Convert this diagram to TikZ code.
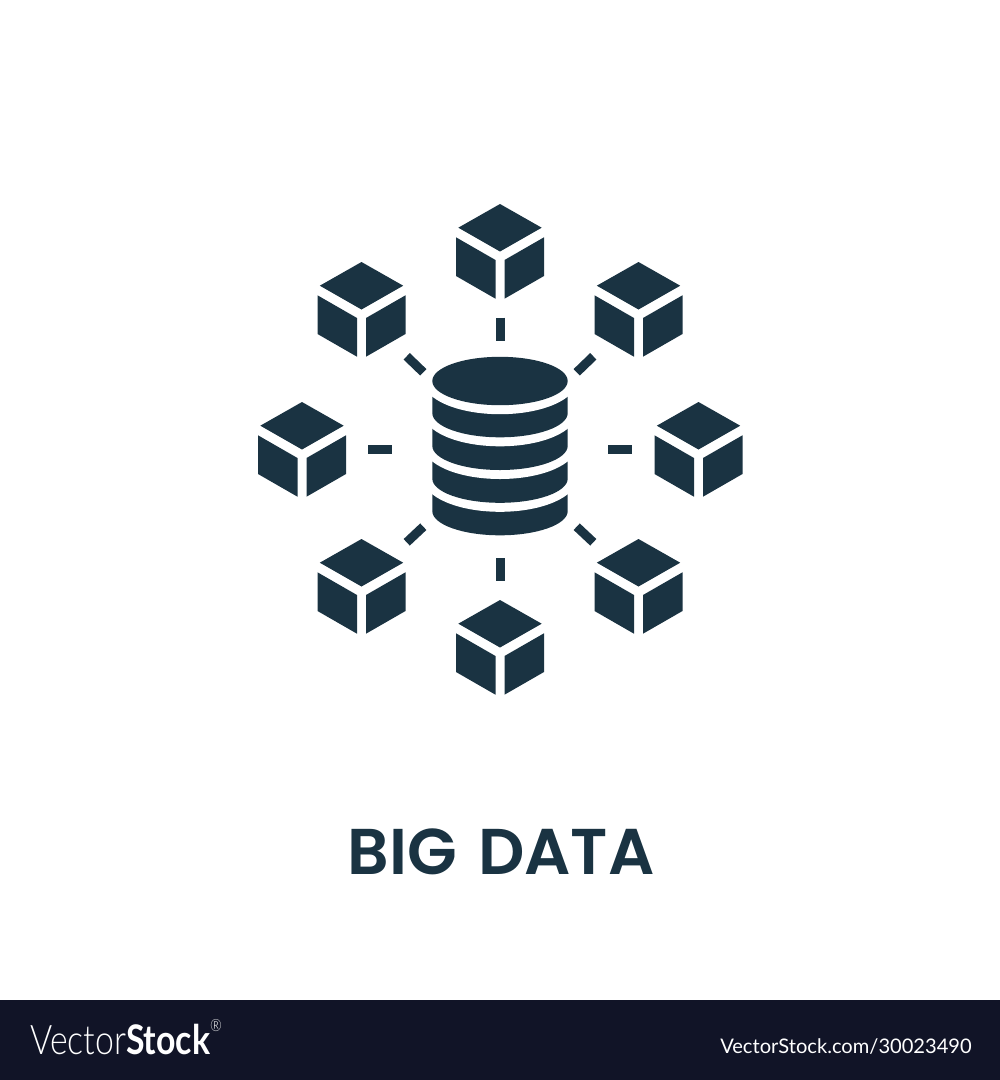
\documentclass[tikz,border=0pt]{standalone}
\usepackage{fontspec}
\newfontfamily\titlefont{Poppins SemiBold}
\newfontfamily\logofont[FakeStretch=0.83]{Lato Light}[BoldFont=Lato Bold]
\newfontfamily\linkfont{Lato}
\definecolor{icondark}{HTML}{1A3342}
\definecolor{footerdark}{HTML}{111427}
\tikzset{
	% one cube, measured from its top corner
	cubeicon/.pic={
		\fill[icondark] (0, 0) -- (41.7, 23.7) -- (0, 47.5) -- (-41.7, 23.7) -- cycle;
		\fill[icondark] (-44, 33.3) -- (-4.5, 56) -- (-4.5, 94.7) -- (-44, 72) -- cycle;
		\fill[icondark] (44, 33.3) -- (4.5, 56) -- (4.5, 94.7) -- (44, 72) -- cycle;
	},
	tick/.style = {icondark, line width = 6.4pt}
}
\begin{document}
\begin{tikzpicture}[x = 0.025cm, y = -0.025cm]
	\useasboundingbox (0, 0) rectangle (1000, 1080);

	% cubes
	\foreach \name/\cx/\cy in {cubeN/500/204, cubeNW/361.5/262, cubeNE/638.5/262, cubeW/302/402, cubeE/698.5/402, cubeSW/361.5/539, cubeSE/638.5/539, cubeS/500/600}
		\pic (\name) at (\cx, \cy) {cubeicon};

	% ticks
	\foreach \xa/\ya/\xb/\yb in {500/317.5/500/341, 500/558/500/581, 368/449/392/449, 608/449/632/449, 406.7/356.3/423.3/372.3, 593.3/356.3/576.7/372.3, 423.3/526.7/406.7/542.3, 576.7/526.7/593.3/542.3}
		\draw[tick] (\xa, \ya) -- (\xb, \yb);

	% database, bottom layer first
	\def\rx{67.7}
	\def\ry{24.2}
	\foreach \c/\p in {511.1/478.6, 478.6/445.8, 445.8/413.1, 413.1/381} {
		\fill[icondark] (500 - \rx, \p) -- (500 - \rx, \c) arc (180:360:\rx cm * 0.025 and \ry cm * 0.025) -- (500 + \rx, \p) -- cycle;
		\fill[white] (500, \p) ellipse [x radius = 76.7, y radius = 33.2];
	}
	\fill[icondark] (500, 381) ellipse [x radius = \rx, y radius = \ry];

	% title
	\node[icondark, font = \titlefont\fontsize{46}{46}\selectfont] (title) at (501, 852) {BIG\hspace{0.33em}DATA};

	% footer
	\fill[footerdark] (0, 1000) rectangle (1000, 1080);
	\node[white, anchor = base west, inner sep = 0pt, font = \logofont\fontsize{29}{29}\selectfont] (logo) at (30, 1054) {Vector\textbf{Stock}\raisebox{1.1ex}{\fontsize{12}{12}\selectfont\textregistered}};
	\node[white, anchor = base east, inner sep = 0pt, font = \linkfont\fontsize{14.3}{14.3}\selectfont] (link) at (972, 1053) {VectorStock.com/30023490};
\end{tikzpicture}
\end{document}
